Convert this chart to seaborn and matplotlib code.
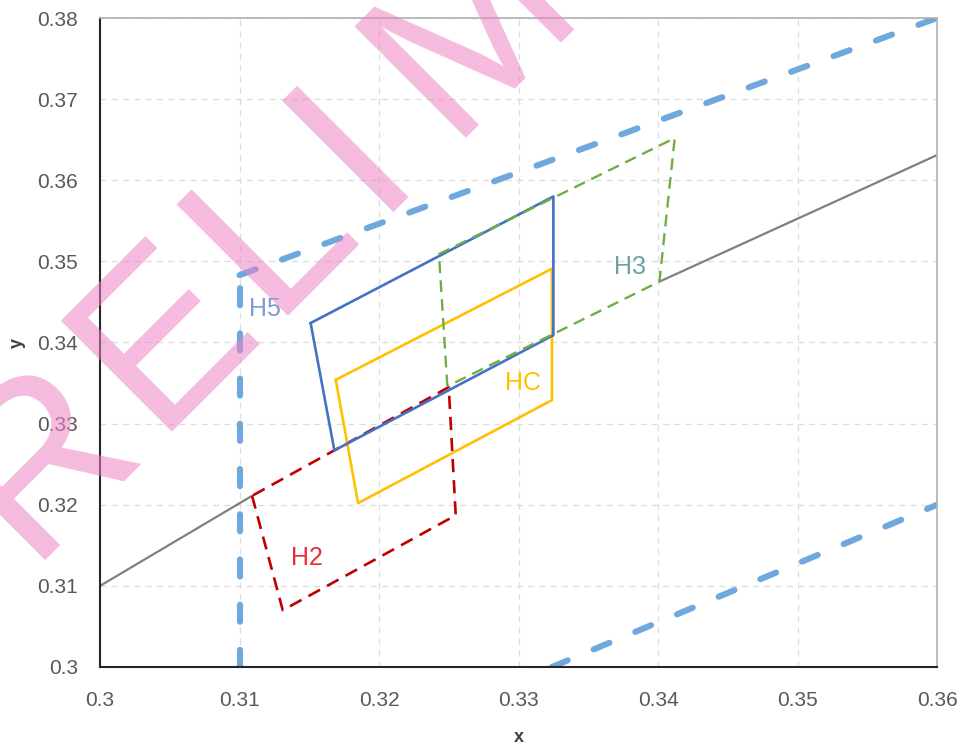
import matplotlib
matplotlib.use("Agg")
import matplotlib.pyplot as plt
import seaborn as sns

# Quadrangle corners (closed polygons)
h2_x = [0.3109, 0.3131, 0.3255, 0.3250, 0.3109]
h2_y = [0.3211, 0.3070, 0.3187, 0.3345, 0.3211]

blue_x = [0.3151, 0.3168, 0.3325, 0.3325, 0.3151]
blue_y = [0.3424, 0.3267, 0.3409, 0.3580, 0.3424]

hc_x = [0.3169, 0.3185, 0.3324, 0.3324, 0.3169]
hc_y = [0.3354, 0.3202, 0.3329, 0.3491, 0.3354]

h3_x = [0.3249, 0.3243, 0.3412, 0.3401, 0.3249]
h3_y = [0.3346, 0.3509, 0.3652, 0.3475, 0.3346]

# Grey locus line, visible outside the boxes
locus1_x = [0.300, 0.3109]
locus1_y = [0.310, 0.3211]
locus2_x = [0.3401, 0.360]
locus2_y = [0.3475, 0.3631]

# H5 boundary (thick dashed)
h5_vert_x = [0.310, 0.310]
h5_vert_y = [0.300, 0.3483]
h5_top_x = [0.310, 0.360]
h5_top_y = [0.3483, 0.380]
h5_low_x = [0.3324, 0.360]
h5_low_y = [0.300, 0.320]

labels = ["H5", "H3", "HC", "H2"]
label_x = [0.3118, 0.3380, 0.3303, 0.3148]
label_y = [0.3441, 0.3493, 0.3350, 0.3134]
label_colors = ["#7F9BD0", "#6F9FA0", "#FFC000", "#EC2B35"]

xticks = [0.30, 0.31, 0.32, 0.33, 0.34, 0.35, 0.36]
xtick_labels = ["0.3", "0.31", "0.32", "0.33", "0.34", "0.35", "0.36"]
yticks = [0.30, 0.31, 0.32, 0.33, 0.34, 0.35, 0.36, 0.37, 0.38]
ytick_labels = ["0.3", "0.31", "0.32", "0.33", "0.34", "0.35", "0.36", "0.37", "0.38"]

# watermark letters and their spacing along the 45 deg baseline (px from the E)
wm_letters = ["P", "R", "E", "L", "I", "M", "I", "N", "A", "R", "Y"]
wm_offsets = [-348, -180, 0, 164, 311, 416, 627, 711, 900, 1085, 1270]

sns.set_theme(style="white")
plt.rcParams["font.family"] = ["Liberation Sans", "DejaVu Sans"]

W, H = 964, 751
fig = plt.figure(figsize=(W / 100, H / 100), dpi=100)
ax = fig.add_axes([100 / W, 1 - 667 / H, 837 / W, 649 / H])

#grey locus
for xs, ys in [(locus1_x, locus1_y), (locus2_x, locus2_y)]:
    sns.lineplot(x=xs, y=ys, sort=False, estimator=None, color="#808080", lw=1.6, ax=ax)

#H2 red dashed
sns.lineplot(x=h2_x, y=h2_y, sort=False, estimator=None, color="#C00000", lw=1.9,
             ax=ax).lines[-1].set_dashes((5, 3))
#HC yellow
sns.lineplot(x=hc_x, y=hc_y, sort=False, estimator=None, color="#FFC000", lw=1.9, ax=ax)
#blue box
sns.lineplot(x=blue_x, y=blue_y, sort=False, estimator=None, color="#4472C4", lw=1.9, ax=ax)
#H3 green dashed
sns.lineplot(x=h3_x, y=h3_y, sort=False, estimator=None, color="#70AD47", lw=1.7,
             ax=ax).lines[-1].set_dashes((5, 3))

#H5 thick dashes
for xs, ys in [(h5_vert_x, h5_vert_y), (h5_top_x, h5_top_y), (h5_low_x, h5_low_y)]:
    sns.lineplot(x=xs, y=ys, sort=False, estimator=None, color="#6FA8DC", lw=4.4, ax=ax)
    ln = ax.lines[-1]
    ln.set_dashes((2.8, 4.6))
    ln.set_dash_capstyle("round")

for t, lx, ly, c in zip(labels, label_x, label_y, label_colors):
    ax.text(lx, ly, t, color=c, fontsize=18, ha="center", va="center")

ax.set_xlim(0.30, 0.36)
ax.set_ylim(0.30, 0.38)
ax.set_xticks(xticks)
ax.set_xticklabels(xtick_labels)
ax.set_yticks(yticks)
ax.set_yticklabels(ytick_labels)
ax.tick_params(axis="both", direction="in", length=8, width=1.3, color="#262626",
               labelsize=15, labelcolor="#595959")
ax.tick_params(axis="y", pad=16)
ax.tick_params(axis="x", pad=17)
ax.grid(True, color="#DDDDDD", linestyle=(0, (5, 4)), lw=0.9)
ax.set_axisbelow(True)
for s in ["top", "right"]:
    ax.spines[s].set_color("#B0B0B0")
    ax.spines[s].set_linewidth(1.2)
for s in ["left", "bottom"]:
    ax.spines[s].set_color("#262626")
    ax.spines[s].set_linewidth(1.5)
ax.set_xlabel("x", fontsize=13, fontweight="bold", color="#404040", labelpad=14)
ax.set_ylabel("y", fontsize=13, fontweight="bold", color="#404040", labelpad=8)

#watermark "PRELIMINARY", one letter at a time along the diagonal
base_x, base_y = 153, 432
for ch, off in zip(wm_letters, wm_offsets):
    px = base_x + off * 0.7071
    py = base_y - off * 0.7071
    ax.text(px / W, 1 - py / H, ch, transform=fig.transFigure, fontsize=165,
            color="#ED83C5", alpha=0.55, rotation=45, rotation_mode="anchor",
            ha="left", va="baseline", clip_on=False, zorder=10)

fig.savefig("out.png", dpi=100)
